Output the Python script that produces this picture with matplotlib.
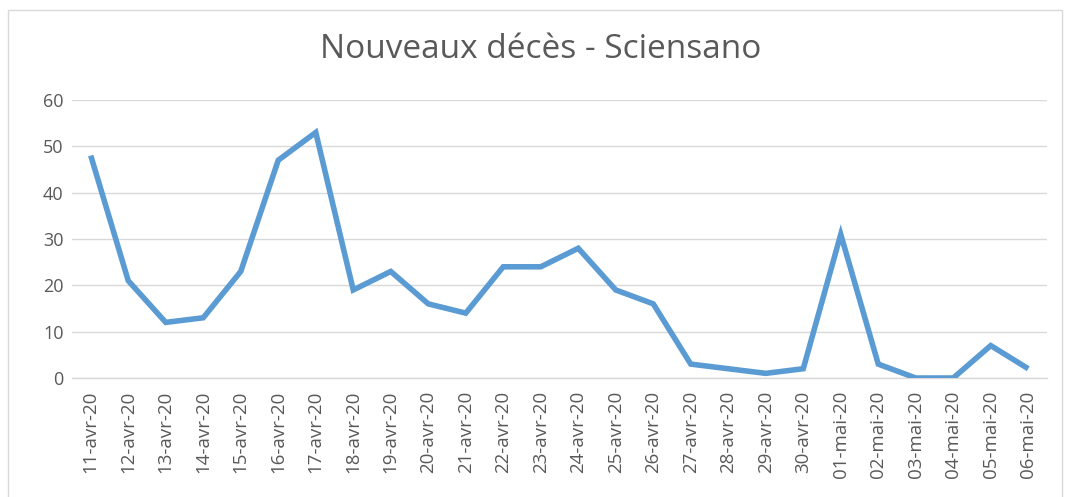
import matplotlib
matplotlib.use("Agg")
import matplotlib.pyplot as plt
from matplotlib.patches import Rectangle

dates = ["11-avr-20", "12-avr-20", "13-avr-20", "14-avr-20", "15-avr-20", "16-avr-20",
         "17-avr-20", "18-avr-20", "19-avr-20", "20-avr-20", "21-avr-20", "22-avr-20",
         "23-avr-20", "24-avr-20", "25-avr-20", "26-avr-20", "27-avr-20", "28-avr-20",
         "29-avr-20", "30-avr-20", "01-mai-20", "02-mai-20", "03-mai-20", "04-mai-20",
         "05-mai-20", "06-mai-20"]
deaths = [48, 21, 12, 13, 23, 47, 53, 19, 23, 16, 14, 24, 24, 28, 19, 16, 3, 2, 1, 2,
          31, 3, 0, 0, 7, 2]
yticks = [0, 10, 20, 30, 40, 50, 60]
title = "Nouveaux décès - Sciensano"

plt.rcParams['font.family'] = ['Open Sans', 'DejaVu Sans']
fig = plt.figure(figsize=(10.68, 4.97), dpi=100)
ax = fig.add_axes([72/1068, 1-378/497, (1047-72)/1068, (378-100)/497])

x = list(range(len(dates)))
ax.plot(x, deaths, color="#5A9BD3", linewidth=4.0, solid_joinstyle="miter", solid_capstyle="butt", zorder=3)
ax.set_xlim(-0.5, len(dates)-0.5)
ax.set_ylim(0, 60)
ax.set_yticks(yticks)
ax.set_yticklabels([str(v) for v in yticks])
ax.set_xticks(x)
ax.set_xticklabels(dates, rotation=90)
ax.tick_params(axis='both', length=0, colors="#595959", labelsize=13)
ax.tick_params(axis='x', labelsize=13.5)
ax.tick_params(axis='y', pad=6)
ax.tick_params(axis='x', pad=9)
ax.grid(axis='y', color="#D9D9D9", linewidth=1)
ax.set_axisbelow(True)
for s in ["top", "right", "left"]:
    ax.spines[s].set_visible(False)
ax.spines["bottom"].set_color("#D9D9D9")
ax.spines["bottom"].set_linewidth(1)

fig.text(541/1068, 1-49/497, title, ha="center", va="center", fontsize=24, color="#595959")
fig.patches.append(Rectangle((8/1068, -0.1), (1062-8)/1068, 1.1-10/497, transform=fig.transFigure,
                             fill=False, edgecolor="#D9D9D9", linewidth=1))
fig.savefig("out.png", dpi=100)
